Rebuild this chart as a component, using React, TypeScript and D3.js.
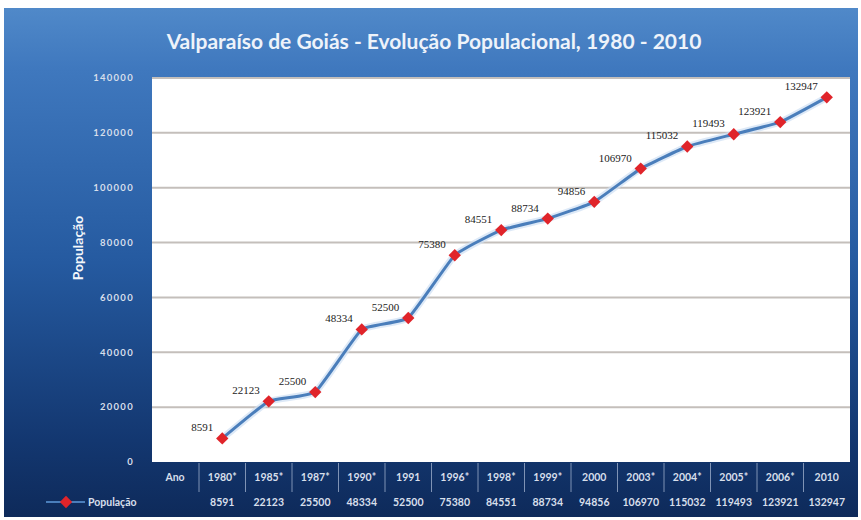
import React from 'react'
import * as d3 from 'd3'

const years = ["1980*", "1985*", "1987*", "1990*", "1991", "1996*", "1998*", "1999*", "2000", "2003*", "2004*", "2005*", "2006*", "2010"]
const population = [8591, 22123, 25500, 48334, 52500, 75380, 84551, 88734, 94856, 106970, 115032, 119493, 123921, 132947]
const yTicks = [0, 20000, 40000, 60000, 80000, 100000, 120000, 140000]

const title = "Valparaíso de Goiás - Evolução Populacional, 1980 - 2010"
const seriesName = "População"

const layout = {
  width: 861, height: 520,
  plotLeft: 152, plotRight: 850, bandLeft: 199,
  plotTop: 78, plotBottom: 462,
  row1: 477, row2: 502
}

export default function App() {
  const data = years.map((y, i) => ({ year: y, value: population[i] }))

  const x = d3.scaleBand().domain(years).range([layout.bandLeft, layout.plotRight])
  const y = d3.scaleLinear().domain([0, 140000]).range([layout.plotBottom, layout.plotTop])
  const cx = (d) => x(d.year) + x.bandwidth() / 2

  // excel "smoothed line" look, but close to straight segments
  const line = d3.line().x(cx).y(d => y(d.value)).curve(d3.curveCardinal.tension(0.65))
  const diamond = d3.symbol(d3.symbolSquare, 76)()

  const sans = "Lato, 'Open Sans', sans-serif"
  const tableColor = "#d7dfeb"

  return (
    <svg width={layout.width} height={layout.height} style={{position: "absolute", left: 0, top: 0}}>
      <defs>
        <linearGradient id="bg" x1="0" y1="0" x2="0" y2="1">
          <stop offset="0" stopColor="#5089c9" />
          <stop offset="0.12" stopColor="#3f78be" />
          <stop offset="0.5" stopColor="#255aa0" />
          <stop offset="0.85" stopColor="#133770" />
          <stop offset="1" stopColor="#0e2a5a" />
        </linearGradient>
      </defs>
      <rect width={layout.width} height={layout.height} fill="#fff" />
      <rect x={4} y={8} width={854} height={509} fill="url(#bg)" />

      <text x={434} y={49} textAnchor="middle" fill="#eef3fa" fontFamily={sans} fontWeight="bold" fontSize={21}>{title}</text>

      <rect x={layout.plotLeft} y={layout.plotTop} width={layout.plotRight - layout.plotLeft} height={layout.plotBottom - layout.plotTop} fill="#fff" />

      {yTicks.map(t => (
        <g key={t}>
          {t > 0 && <line x1={layout.plotLeft} x2={layout.plotRight} y1={y(t)} y2={y(t)} stroke="#c4bfbb" strokeWidth={2} />}
          <text x={134} y={y(t)} dy="0.35em" textAnchor="end" fill={tableColor} fontFamily={sans} fontWeight="bold" fontSize={9.5} letterSpacing={1.3}>{t}</text>
        </g>
      ))}

      <text transform={`translate(83,${(layout.plotTop + layout.plotBottom) / 2 - 22}) rotate(-90)`} textAnchor="middle" fill="#f4f7fb" fontFamily={sans} fontWeight="bold" fontSize={14}>{seriesName}</text>

      {/* data table */}
      {years.map(d => (
        <line key={d} x1={x(d)} x2={x(d)} y1={layout.plotBottom + 1} y2={layout.plotBottom + 30} stroke="#7f93b5" strokeWidth={1} />
      ))}
      <text x={175} y={layout.row1} dy="0.35em" textAnchor="middle" fill={tableColor} fontFamily={sans} fontWeight="bold" fontSize={10.5}>Ano</text>
      {data.map(d => (
        <g key={d.year}>
          <text x={cx(d)} y={layout.row1} dy="0.35em" textAnchor="middle" fill={tableColor} fontFamily={sans} fontWeight="bold" fontSize={10.5}>{d.year}</text>
          <text x={cx(d)} y={layout.row2} dy="0.35em" textAnchor="middle" fill={tableColor} fontFamily={sans} fontWeight="bold" fontSize={10.5}>{d.value}</text>
        </g>
      ))}
      <line x1={46} x2={85} y1={layout.row2} y2={layout.row2} stroke="#4a7ebb" strokeWidth={2} />
      <path d={diamond} transform={`translate(66,${layout.row2}) rotate(45)`} fill="#e0242a" />
      <text x={88} y={layout.row2} dy="0.35em" fill={tableColor} fontFamily={sans} fontWeight="bold" fontSize={10.5}>{seriesName}</text>

      {/* series */}
      <path d={line(data)} fill="none" stroke="#cfe0f4" strokeWidth={7} strokeLinejoin="round" opacity={0.7} />
      <path d={line(data)} fill="none" stroke="#4a7ebb" strokeWidth={3} strokeLinejoin="round" />
      {data.map(d => (
        <path key={d.year} d={diamond} transform={`translate(${cx(d)},${y(d.value)}) rotate(45)`} fill="#e0242a" />
      ))}
      {data.map(d => (
        <text key={d.year} x={cx(d) - 9} y={y(d.value) - 7} textAnchor="end" fill="#222" fontFamily="'Liberation Serif', serif" fontSize={11}>{d.value}</text>
      ))}
    </svg>
  )
}
